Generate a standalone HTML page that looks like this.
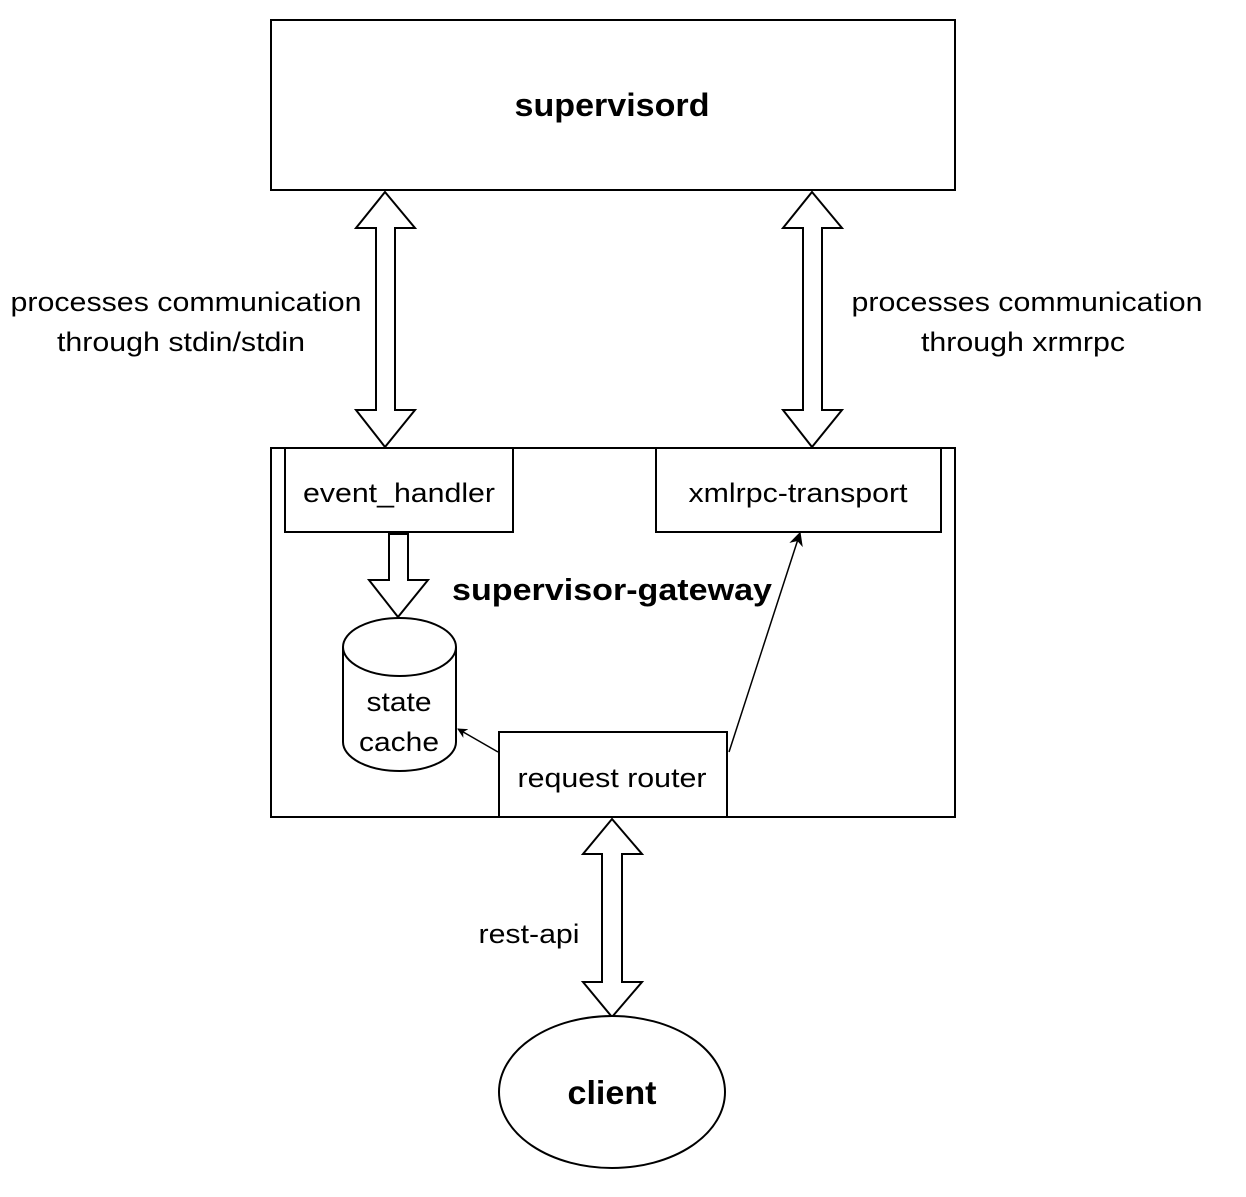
<!DOCTYPE html>
<html><head><style>body{margin:0;background:#fff}</style></head><body>
<svg width="1246" height="1192" viewBox="0 0 1246 1192" xmlns="http://www.w3.org/2000/svg" font-family="Liberation Sans, Arial, sans-serif">
<defs><marker id="a" viewBox="0 0 10 10" refX="9" refY="5" markerWidth="10" markerHeight="10" orient="auto" markerUnits="userSpaceOnUse"><path d="M0,0 L10,5 L0,10 L3,5 z" fill="#000"/></marker>
<marker id="b" viewBox="0 0 10 10" refX="9" refY="5" markerWidth="14" markerHeight="14" orient="auto" markerUnits="userSpaceOnUse"><path d="M0,0 L10,5 L0,10 L3,5 z" fill="#000"/></marker></defs>
<g fill="#fff" stroke="#000" stroke-width="2">
<rect x="271" y="20" width="684" height="170"/>
<rect x="271" y="448" width="684" height="369"/>
<rect x="285" y="448" width="228" height="84"/>
<rect x="656" y="448" width="285" height="84"/>
<rect x="499" y="732" width="228" height="85"/>
<path d="M385,192 L415,228 L395,228 L395,410 L415,410 L385,447 L356,410 L376,410 L376,228 L356,228 Z"/>
<path d="M812,192 L842,228 L822,228 L822,410 L842,410 L812,447 L783,410 L803,410 L803,228 L783,228 Z"/>
<path d="M612,819 L642,854 L622,854 L622,982 L642,982 L612,1017 L583,982 L602,982 L602,854 L583,854 Z"/>
<path d="M389,534 L408,534 L408,580 L428,580 L398,617 L369,580 L389,580 Z"/>
<path d="M343,647 A56.5,29 0 0 1 456,647 L456,742 A56.5,29 0 0 1 343,742 Z"/>
<path d="M343,647 A56.5,29 0 0 0 456,647" fill="none"/>
<ellipse cx="612" cy="1092" rx="113" ry="76"/>
</g>
<g stroke="#000" stroke-width="1.5" fill="none">
<line x1="498" y1="752" x2="458" y2="729" marker-end="url(#a)"/>
<line x1="729" y1="752" x2="800" y2="533" marker-end="url(#b)"/>
</g>
<g font-size="27" text-anchor="middle" fill="#000">
<text x="612" y="116" font-weight="bold" font-size="32" textLength="195" lengthAdjust="spacingAndGlyphs">supervisord</text>
<text x="186" y="311" textLength="351" lengthAdjust="spacingAndGlyphs">processes communication</text>
<text x="181" y="351" textLength="248" lengthAdjust="spacingAndGlyphs">through stdin/stdin</text>
<text x="1027" y="311" textLength="351" lengthAdjust="spacingAndGlyphs">processes communication</text>
<text x="1023" y="351" textLength="204" lengthAdjust="spacingAndGlyphs">through xrmrpc</text>
<text x="399" y="502" textLength="192" lengthAdjust="spacingAndGlyphs">event_handler</text>
<text x="798" y="502" textLength="219" lengthAdjust="spacingAndGlyphs">xmlrpc-transport</text>
<text x="612" y="600" font-weight="bold" font-size="31" textLength="320" lengthAdjust="spacingAndGlyphs">supervisor-gateway</text>
<text x="399" y="711" textLength="65" lengthAdjust="spacingAndGlyphs">state</text>
<text x="399" y="751" textLength="80" lengthAdjust="spacingAndGlyphs">cache</text>
<text x="612" y="787" textLength="189" lengthAdjust="spacingAndGlyphs">request router</text>
<text x="529" y="943" textLength="101" lengthAdjust="spacingAndGlyphs">rest-api</text>
<text x="612" y="1104" font-weight="bold" font-size="33" textLength="89" lengthAdjust="spacingAndGlyphs">client</text>
</g>
</svg>
</body></html>
